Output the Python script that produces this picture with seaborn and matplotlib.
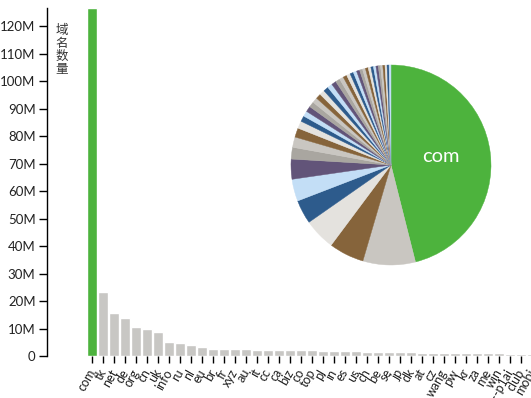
import matplotlib
matplotlib.use('Agg')
import matplotlib.pyplot as plt
import numpy as np
import pandas as pd
import seaborn as sns
from matplotlib.ticker import FuncFormatter

# domain counts per TLD
tlds = ['com', 'tk', 'net', 'de', 'org', 'cn', 'uk', 'info', 'ru', 'nl',
        'eu', 'br', 'fr', 'xyz', 'au', 'it', 'cc', 'ca', 'biz', 'co',
        'top', 'pl', 'in', 'es', 'us', 'ch', 'be', 'se', 'jp', 'dk',
        'at', 'cz', 'wang', 'pw', 'kr', 'za', 'me', 'win', 'xn--p1ai', 'club',
        'mobi']
counts_m = [126.7, 23.3, 15.6, 14.0, 10.6, 9.8, 8.9, 5.2, 4.6, 4.1,
            3.3, 2.55, 2.4, 2.5, 2.4, 2.35, 2.3, 2.3, 2.25, 2.2,
            2.1, 2.0, 1.8, 1.7, 1.65, 1.55, 1.5, 1.4, 1.35, 1.3,
            1.25, 1.2, 1.15, 1.1, 1.05, 1.0, 1.0, 0.95, 0.9, 0.9,
            0.85]
y_label = '域名数量'

green = '#4db33d'
bar_grey = '#c8c7c4'
pie_cycle = ['#c9c6c1', '#86643b', '#e4e2de', '#2d5b8c', '#c3def6', '#625479', '#a9a6a0']

df = pd.DataFrame({'tld': tlds, 'count': np.array(counts_m) * 1e6})

sns.set_style('ticks')
plt.rcParams['font.family'] = ['Lato', 'Noto Sans CJK SC', 'DejaVu Sans']

W, H = 531, 398
fig = plt.figure(figsize=(W / 100, H / 100), dpi=100)

# bar chart, right side runs past the figure edge like the original
step = 11.0
x0 = -4.15
x1 = 41.0
ax = fig.add_axes([46.7 / W, 42 / H, (x1 - x0) * step / W, 348 / H])
bar_colors = [green] + [bar_grey] * (len(tlds) - 1)
sns.barplot(data=df, x='tld', y='count', hue='tld', palette=bar_colors,
            legend=False, width=0.9, saturation=1, ax=ax)
ax.set_xlim(x0, x1)
ax.set_ylim(0, df['count'].max())
ax.set_yticks(np.arange(0, 121e6, 10e6))
ax.yaxis.set_major_formatter(FuncFormatter(lambda v, p: '0' if v == 0 else f'{int(round(v / 1e6))}M'))
ax.set_xlabel('')
ax.set_ylabel('')
for s in ['top', 'right', 'bottom']:
    ax.spines[s].set_visible(False)
ax.spines['left'].set_color('black')
ax.spines['left'].set_linewidth(1)
ax.tick_params(axis='y', length=6, width=1, color='black', labelsize=9.5, labelcolor='#222222', pad=2)
ax.tick_params(axis='x', length=5, width=1, color='black', labelsize=9, labelcolor='#222222', pad=5)
for lab in ax.get_xticklabels():
    lab.set_rotation(60)
    lab.set_ha('right')
    lab.set_va('center')
    lab.set_rotation_mode('anchor')

fig.text(62 / W, 1 - 49 / H, '\n'.join(y_label), ha='center', va='center',
         fontsize=9, linespacing=1.1, color='#333333')

# pie of the same data, clockwise from 12 o'clock
pax = fig.add_axes([291 / W, 133 / H, 200 / W, 200 / H])
pie_colors = [green] + [pie_cycle[i % len(pie_cycle)] for i in range(len(tlds) - 1)]
wedges, _ = pax.pie(df['count'], colors=pie_colors, startangle=90, counterclock=False,
                    wedgeprops=dict(linewidth=0))
for wd in wedges:
    wd.set_edgecolor(wd.get_facecolor())
    wd.set_linewidth(0.3)
pax.set_xlim(-1, 1)
pax.set_ylim(-1, 1)
pax.set_aspect('auto')
pax.axis('off')

w = wedges[0]
mid = np.deg2rad((w.theta1 + w.theta2) / 2)
pax.text(0.5 * np.cos(mid), 0.5 * np.sin(mid) + 0.02, 'com', color='white', fontsize=14.5,
         ha='center', va='center', zorder=10)

fig.savefig('out.png', dpi=100)
